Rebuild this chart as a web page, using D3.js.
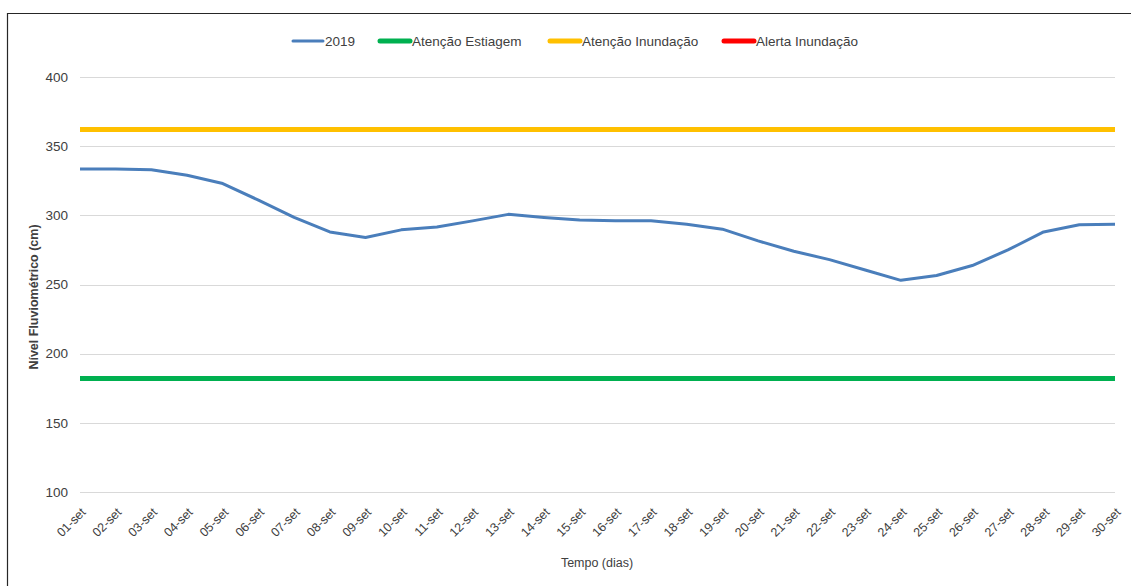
<!DOCTYPE html>
<html>
<head>
<meta charset="utf-8">
<script src="https://cdn.jsdelivr.net/npm/d3@7"></script>
<style>
  body { margin: 0; background: #fff; }
  text { font-family: "Liberation Sans", Arial, sans-serif; fill: #404040; }
</style>
</head>
<body>
<div class="svg-container"></div>
<script>
// categories (days of September)
const dias = ['01-set','02-set','03-set','04-set','05-set','06-set','07-set','08-set','09-set','10-set',
  '11-set','12-set','13-set','14-set','15-set','16-set','17-set','18-set','19-set','20-set',
  '21-set','22-set','23-set','24-set','25-set','26-set','27-set','28-set','29-set','30-set'];

// river level 2019 (cm)
const nivel2019 = [333.5, 333.5, 333, 329, 323, 311, 298.5, 288, 284, 289.5,
  291.5, 296, 300.7, 298.5, 296.6, 296, 296, 293.5, 290, 281.5,
  274, 268, 260.5, 253, 256.5, 263.7, 275, 288, 293.2, 293.6];

// reference levels
const atencaoEstiagem = 182;
const atencaoInundacao = 362;
const alertaInundacao = 420; // above visible range

const yTicks = [100, 150, 200, 250, 300, 350, 400];

const series = [
  { name: '2019', colour: '#4a7ebb', width: 3 },
  { name: 'Atenção Estiagem', colour: '#00b050', width: 5 },
  { name: 'Atenção Inundação', colour: '#ffc000', width: 5 },
  { name: 'Alerta Inundação', colour: '#ff0000', width: 5 }
];

const width = 1131;
const height = 586;
const margin = { top: 77, right: 16, bottom: 94, left: 80 };

const svg = d3.select('.svg-container')
  .append('svg')
  .attr('width', width)
  .attr('height', height);

// chart frame
svg.append('path')
  .attr('d', `M7.5,${height} V13.5 H${width}`)
  .attr('fill', 'none')
  .attr('stroke', '#262626')
  .attr('stroke-width', 1.2);

const x = d3.scalePoint()
  .domain(dias)
  .range([margin.left, width - margin.right]);

const y = d3.scaleLinear()
  .domain([100, 400])
  .range([height - margin.bottom, margin.top]);

// gridlines
svg.append('g')
  .selectAll('line')
  .data(yTicks)
  .enter()
  .append('line')
  .attr('x1', margin.left)
  .attr('x2', width - margin.right)
  .attr('y1', d => Math.round(y(d)) + 0.5)
  .attr('y2', d => Math.round(y(d)) + 0.5)
  .attr('stroke', '#d9d9d9')
  .attr('stroke-width', 1);

// y axis labels
const yAxis = svg.append('g')
  .attr('transform', `translate(${margin.left - 12},0)`)
  .call(d3.axisLeft(y).tickValues(yTicks).tickSize(0).tickPadding(0));
yAxis.select('.domain').remove();
yAxis.selectAll('text')
  .style('font-size', '13.5px')
  .style('font-family', '"Liberation Sans", Arial, sans-serif')
  .attr('fill', '#595959');

// x axis labels
const xAxis = svg.append('g')
  .attr('transform', `translate(0,${height - margin.bottom})`)
  .call(d3.axisBottom(x).tickSize(0).tickPadding(0));
xAxis.select('.domain').remove();
xAxis.selectAll('text')
  .style('font-size', '12.5px')
  .style('font-family', '"Liberation Sans", Arial, sans-serif')
  .attr('fill', '#595959')
  .attr('text-anchor', 'end')
  .attr('dy', 0)
  .attr('transform', 'translate(6,21) rotate(-45)');

// axis titles
svg.append('text')
  .attr('x', 597)
  .attr('y', 567)
  .attr('text-anchor', 'middle')
  .style('font-size', '12.5px')
  .text('Tempo (dias)');

svg.append('text')
  .attr('transform', 'translate(38,297) rotate(-90)')
  .attr('text-anchor', 'middle')
  .style('font-size', '12.5px')
  .style('font-weight', 'bold')
  .attr('fill', '#262626')
  .text('Nível Fluviométrico (cm)');

// clip to plot area
svg.append('clipPath').attr('id', 'plot')
  .append('rect')
  .attr('x', margin.left - 2)
  .attr('y', margin.top - 4)
  .attr('width', width - margin.left - margin.right + 4)
  .attr('height', height - margin.top - margin.bottom + 8);

const plot = svg.append('g').attr('clip-path', 'url(#plot)');

const line = d3.line()
  .x((d, i) => x(dias[i]))
  .y(d => y(d));

const levels = [atencaoEstiagem, atencaoInundacao, alertaInundacao];
levels.forEach((lv, i) => {
  plot.append('path')
    .datum(dias.map(() => lv))
    .attr('d', line)
    .attr('fill', 'none')
    .attr('stroke', series[i + 1].colour)
    .attr('stroke-width', series[i + 1].width);
});

plot.append('path')
  .datum(nivel2019)
  .attr('d', line)
  .attr('fill', 'none')
  .attr('stroke', series[0].colour)
  .attr('stroke-width', series[0].width)
  .attr('stroke-linejoin', 'round');

// legend
const legendX = [293, 380, 550, 724];
const legend = svg.append('g')
  .selectAll('g')
  .data(series)
  .enter()
  .append('g')
  .attr('transform', (d, i) => `translate(${legendX[i]},41)`);

legend.append('line')
  .attr('x1', 0)
  .attr('x2', 30)
  .attr('stroke', d => d.colour)
  .attr('stroke-width', d => d.width)
  .attr('stroke-linecap', 'round');

legend.append('text')
  .attr('x', 32)
  .attr('dy', '0.35em')
  .style('font-size', '13.5px')
  .text(d => d.name);
</script>
</body>
</html>
